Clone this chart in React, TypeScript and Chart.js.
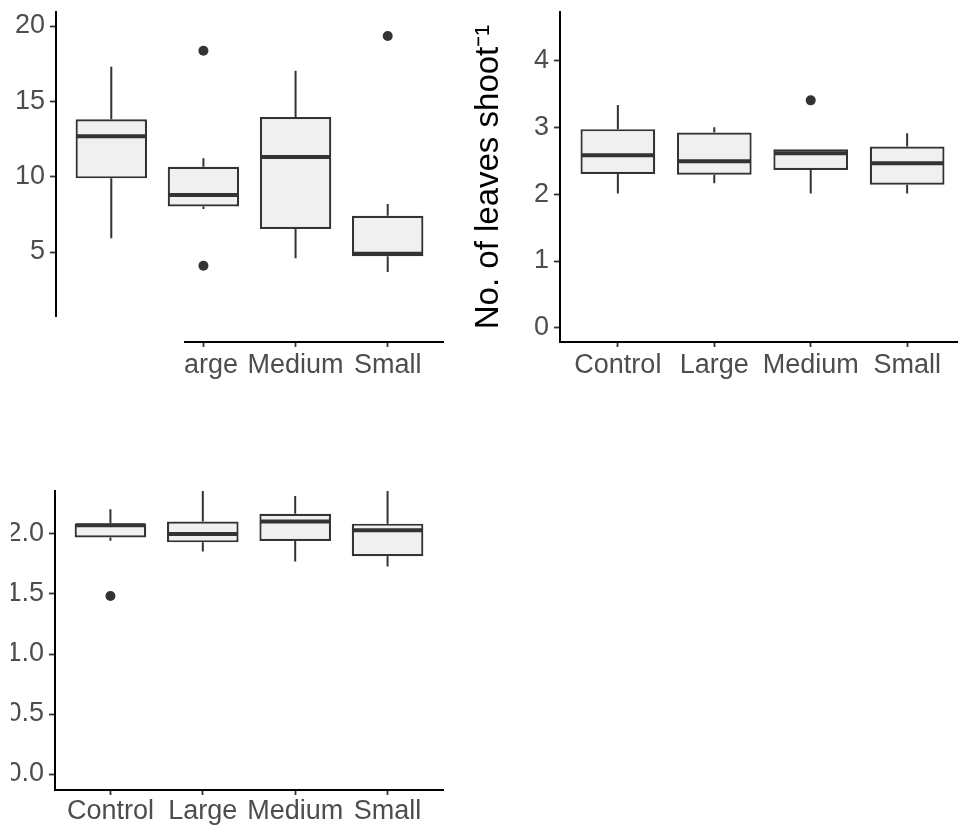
import React, { useEffect, useRef } from "react";
import { Chart, registerables } from "chart.js";

Chart.register(...registerables);

// ---------- data ----------
const CATEGORIES = ["Control", "Large", "Medium", "Small"];

// Panel A (top-left)
const A_LOW = [5.91, 7.85, 4.58, 3.67];
const A_Q1 = [9.89, 8.03, 6.53, 4.72];
const A_MED = [12.68, 8.78, 11.31, 4.88];
const A_Q3 = [13.81, 10.66, 13.96, 7.41];
const A_HIGH = [17.3, 11.22, 17.03, 8.19];
const A_OUT_CAT = [1, 1, 3];
const A_OUT_VAL = [18.36, 4.09, 19.34];
const A_TICKS = [5, 10, 15, 20];
const A_LIMITS = [-0.97, 20.93];

// Panel B (top-right): No. of leaves shoot^-1
const B_LOW = [2.01, 2.16, 2.01, 2.01];
const B_Q1 = [2.3, 2.29, 2.36, 2.14];
const B_MED = [2.58, 2.49, 2.61, 2.46];
const B_Q3 = [2.97, 2.92, 2.67, 2.71];
const B_HIGH = [3.33, 3.0, 2.67, 2.91];
const B_OUT_CAT = [2];
const B_OUT_VAL = [3.4];
const B_TICKS = [0, 1, 2, 3, 4];
const B_LIMITS = [-0.21, 4.72];
const B_TITLE = "No. of leaves shoot\u207B\u00B9";

// Panel C (bottom-left)
const C_LOW = [1.944, 1.853, 1.77, 1.728];
const C_Q1 = [1.97, 1.93, 1.942, 1.814];
const C_MED = [2.072, 2.0, 2.103, 2.03];
const C_Q3 = [2.088, 2.104, 2.169, 2.086];
const C_HIGH = [2.206, 2.42, 2.317, 2.42];
const C_OUT_CAT = [0];
const C_OUT_VAL = [1.483];
const C_TICKS = [0, 0.5, 1, 1.5, 2];
const C_LIMITS = [-0.133, 2.358];

// ---------- styles ----------
const FONT = "'Liberation Sans', Arial, Helvetica, sans-serif";
const DARK = "#333333";
const FILL = "#F0F0F0";
const TICK_TEXT = "#4D4D4D";
const BOX_HALF = 0.375;
const TICK_FONT = 27;
const TITLE_FONT = 33;

type PanelCfg = {
  low: number[]; q1: number[]; med: number[]; q3: number[]; high: number[];
  outCat: number[]; outVal: number[];
  ticks: number[]; limits: number[];
  fmt: (v: number) => string;
  title?: string;
  left: number; top: number; w: number; h: number;
  pad: { left: number; top: number; right: number; bottom: number };
  yAxisW: number; xAxisH: number; xPad: number;
  clip?: string;
};

function buildConfig(p: PanelCfg): any {
  const boxData = CATEGORIES.map((_, i) => ({ x: i, y: [p.q1[i], p.q3[i]] }));
  const whiskers: any[] = [];
  const medians: any[] = [];
  CATEGORIES.forEach((_, i) => {
    whiskers.push({ x: i, y: p.q3[i] }, { x: i, y: p.high[i] }, { x: i, y: null });
    whiskers.push({ x: i, y: p.low[i] }, { x: i, y: p.q1[i] }, { x: i, y: null });
    medians.push({ x: i - BOX_HALF, y: p.med[i] }, { x: i + BOX_HALF, y: p.med[i] }, { x: i + BOX_HALF, y: null });
  });
  const outliers = p.outCat.map((c, k) => ({ x: c, y: p.outVal[k] }));

  const zeroPad = (s: any) => {
    s.paddingTop = 0; s.paddingBottom = 0; s.paddingLeft = 0; s.paddingRight = 0;
  };

  return {
    type: "bar",
    data: {
      datasets: [
        {
          type: "line", label: "median", data: medians, borderColor: DARK, borderWidth: 4,
          pointRadius: 0, spanGaps: false, fill: false, order: 0, borderCapStyle: "butt",
        },
        {
          type: "line", label: "outliers", data: outliers, showLine: false, pointRadius: 5,
          pointBackgroundColor: DARK, pointBorderColor: DARK, pointBorderWidth: 0, order: 1,
        },
        {
          type: "bar", label: "box", data: boxData, backgroundColor: FILL, borderColor: DARK,
          borderWidth: 2.2, borderSkipped: false, grouped: false, barPercentage: 0.775,
          categoryPercentage: 1, order: 2,
        },
        {
          type: "line", label: "whiskers", data: whiskers, borderColor: DARK, borderWidth: 2,
          pointRadius: 0, spanGaps: false, fill: false, order: 3,
        },
      ],
    },
    options: {
      responsive: false,
      maintainAspectRatio: false,
      animation: false,
      events: [],
      layout: { padding: p.pad },
      plugins: { legend: { display: false }, tooltip: { enabled: false }, title: { display: false } },
      scales: {
        x: {
          type: "linear",
          min: -0.6,
          max: CATEGORIES.length - 0.4,
          offset: false,
          afterBuildTicks: (s: any) => { s.ticks = CATEGORIES.map((_, i) => ({ value: i })); },
          afterFit: (s: any) => { s.height = p.xAxisH; zeroPad(s); },
          grid: { drawOnChartArea: false, drawTicks: true, tickLength: 5, tickColor: DARK, tickWidth: 1.8, offset: false },
          border: { display: true, color: "#000000", width: 2 },
          ticks: {
            autoSkip: false, maxRotation: 0, minRotation: 0, padding: p.xPad, color: TICK_TEXT,
            font: { family: FONT, size: TICK_FONT },
            callback: (v: number) => CATEGORIES[v],
          },
        },
        y: {
          type: "linear",
          min: p.limits[0],
          max: p.limits[1],
          afterBuildTicks: (s: any) => { s.ticks = p.ticks.map((v) => ({ value: v })); },
          afterFit: (s: any) => { s.width = p.yAxisW; zeroPad(s); },
          grid: { drawOnChartArea: false, drawTicks: true, tickLength: 6, tickColor: DARK, tickWidth: 1.8 },
          border: { display: true, color: "#000000", width: 2 },
          ticks: { padding: 5, color: TICK_TEXT, font: { family: FONT, size: TICK_FONT }, callback: (v: number) => p.fmt(v) },
          title: p.title
            ? { display: true, text: p.title, color: "#000000", font: { family: FONT, size: TITLE_FONT }, padding: { top: 9, bottom: 0 } }
            : { display: false },
        },
      },
    },
  };
}

function BoxPanel({ cfg }: { cfg: PanelCfg }) {
  const ref = useRef<HTMLCanvasElement | null>(null);
  useEffect(() => {
    if (!ref.current) return;
    const chart = new Chart(ref.current, buildConfig(cfg));
    return () => chart.destroy();
  }, []);
  return (
    <div style={{ position: "absolute", left: cfg.left, top: cfg.top, width: cfg.w, height: cfg.h, clipPath: cfg.clip }}>
      <canvas ref={ref} width={cfg.w} height={cfg.h} style={{ display: "block", width: cfg.w, height: cfg.h }} />
    </div>
  );
}

const PANEL_A: PanelCfg = {
  low: A_LOW, q1: A_Q1, med: A_MED, q3: A_Q3, high: A_HIGH, outCat: A_OUT_CAT, outVal: A_OUT_VAL,
  ticks: A_TICKS, limits: A_LIMITS, fmt: (v) => String(v),
  left: 0, top: 0, w: 460, h: 400, pad: { left: 0, top: 12, right: 17, bottom: 0 },
  yAxisW: 56, xAxisH: 58, xPad: 2,
  clip: "polygon(0px 0px, 460px 0px, 460px 400px, 184px 400px, 184px 317px, 0px 317px)",
};

const PANEL_B: PanelCfg = {
  low: B_LOW, q1: B_Q1, med: B_MED, q3: B_Q3, high: B_HIGH, outCat: B_OUT_CAT, outVal: B_OUT_VAL,
  ticks: B_TICKS, limits: B_LIMITS, fmt: (v) => String(v), title: B_TITLE,
  left: 460, top: 0, w: 510, h: 400, pad: { left: 0, top: 12, right: 0, bottom: 0 },
  yAxisW: 100, xAxisH: 58, xPad: 2,
};

const PANEL_C: PanelCfg = {
  low: C_LOW, q1: C_Q1, med: C_MED, q3: C_Q3, high: C_HIGH, outCat: C_OUT_CAT, outVal: C_OUT_VAL,
  ticks: C_TICKS, limits: C_LIMITS, fmt: (v) => v.toFixed(1),
  left: 0, top: 470, w: 460, h: 360, pad: { left: 0, top: 21, right: 17, bottom: 0 },
  yAxisW: 55, xAxisH: 40, xPad: 0,
  clip: "inset(0px 0px 0px 11px)",
};

export default function App() {
  return (
    <div style={{ position: "absolute", left: 0, top: 0, width: 958, height: 830, overflow: "hidden", background: "#ffffff" }}>
      <BoxPanel cfg={PANEL_A} />
      <BoxPanel cfg={PANEL_B} />
      <BoxPanel cfg={PANEL_C} />
    </div>
  );
}
